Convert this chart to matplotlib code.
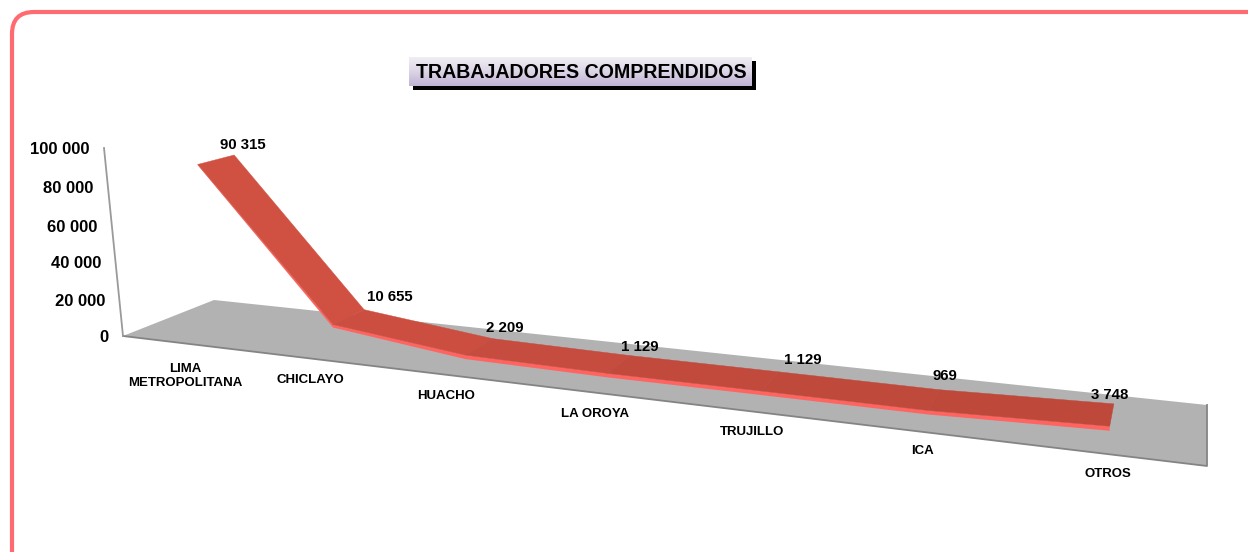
import numpy as np
import matplotlib
matplotlib.use("Agg")
import matplotlib.pyplot as plt
from matplotlib.patches import FancyBboxPatch, Polygon, Rectangle

plt.rcParams['font.family'] = ['Liberation Sans', 'DejaVu Sans']

categories = ["LIMA\nMETROPOLITANA", "CHICLAYO", "HUACHO", "LA OROYA", "TRUJILLO", "ICA", "OTROS"]
values = [90315, 10655, 2209, 1129, 1129, 969, 3748]
value_labels = ["90 315", "10 655", "2 209", "1 129", "1 129", "969", "3 748"]
y_ticks = [0, 20000, 40000, 60000, 80000, 100000]
y_tick_labels = ["0", "20 000", "40 000", "60 000", "80 000", "100 000"]
title = "TRABAJADORES COMPRENDIDOS"

# nudges for the data labels, in pixels from the back edge of the ribbon
label_dx = [9, 26, 12, 9, 24, 6, -4]
label_dy = [-10, -13, -11, -9, -12, -14, -9]
cat_dx = [33, 31, 29, 28, 23, 15, 6]
cat_dy = [20, 8, 7, 7, 4, 1, 0]
tick_dy = [2, 3, 3, 4, 3, 2]
strip = [0.6, 3, 4, 4, 4, 4, 4.5]
ribbon_colors = ["#d05142", "#cb4e40", "#c54c3e", "#c14a3c", "#bf4a3b", "#be493b"]

# floor corners on screen: front left, front right, back right, back left
src = np.array([[0, 0], [1, 0], [1, 1], [0, 1]], float)
dst = np.array([[123, 336], [1207, 466], [1207, 405], [214, 300]], float)

A = []
b = []
for (u, w), (px, py) in zip(src, dst):
    A.append([u, w, 1, 0, 0, 0, -u * px, -w * px])
    A.append([0, 0, 0, u, w, 1, -u * py, -w * py])
    b += [px, py]
H = np.append(np.linalg.solve(np.array(A), np.array(b)), 1).reshape(3, 3)


def project(u, w, h=0):
    p = H @ np.array([u, w, 1.0])
    x, y = p[0] / p[2], p[1] / p[2]
    # heights shrink with depth and lean outward a little towards the left
    k = h / 100000 * (1 - 0.075 * w)
    return x - k * 19 * (1 - u) * (1 - 0.35 * w * w), y - k * 188


fig = plt.figure(figsize=(12.48, 5.52), dpi=100)
ax = fig.add_axes([0, 0, 1, 1])
ax.set_xlim(0, 1248)
ax.set_ylim(552, 0)
ax.axis("off")

# outer frame runs off the picture at right and bottom
ax.add_patch(FancyBboxPatch((12, 12), 1300, 600, boxstyle="round,pad=0,rounding_size=22",
                            fc="white", ec="#ff6b70", lw=3, clip_on=True))

# title box
ax.add_patch(Rectangle((413, 61), 343, 29, fc="black", ec="none", zorder=2))
grad = np.linspace(0, 1, 30).reshape(-1, 1)
cmap = matplotlib.colors.LinearSegmentedColormap.from_list("t", ["#f0edf3", "#dcd5e6", "#c0b3d4"])
ax.imshow(grad, extent=(409, 752, 86, 57), aspect="auto", cmap=cmap, zorder=3)
ax.set_xlim(0, 1248)
ax.set_ylim(552, 0)
ax.text(581, 72, title, fontsize=14.1, fontweight="bold", ha="center", va="center", zorder=4)

# floor
floor = [project(u, w) for u, w in src]
ax.add_patch(Polygon(floor, closed=True, fc="#b2b2b2", ec="none", zorder=1))
ax.plot([floor[0][0], floor[1][0], floor[2][0]], [floor[0][1], floor[1][1], floor[2][1]],
        color="#848484", lw=1.3, zorder=1.5)

# value axis
axis_pts = np.array([project(0, 0, t) for t in y_ticks])
ax.plot(axis_pts[:, 0], axis_pts[:, 1], color="#9a9a9a", lw=1.3, zorder=1.5)
for t, lab, dy in zip(axis_pts, y_tick_labels, tick_dy):
    ax.text(t[0] - 14, t[1] + dy, lab, fontsize=12, fontweight="bold", ha="right", va="center")

# ribbon
n = len(values)
us = [(i + 0.5) / n for i in range(n)]
front = np.array([project(u, 0.33, v) for u, v in zip(us, values)])
back = np.array([project(u, 0.72, v) for u, v in zip(us, values)])
lower = front + np.column_stack([np.zeros(n), strip])
ax.add_patch(Polygon(np.vstack([front, lower[::-1]]), closed=True, fc="#ff6460", ec="none", zorder=5))
for i in range(n - 1):
    quad = [front[i], front[i + 1], back[i + 1], back[i]]
    ax.add_patch(Polygon(quad, closed=True, fc=ribbon_colors[i], ec=ribbon_colors[i], lw=0.3, zorder=6))

for i, lab in enumerate(value_labels):
    ax.text(back[i][0] + label_dx[i], back[i][1] + label_dy[i], lab, fontsize=10.8,
            fontweight="bold", ha="center", va="center", zorder=7)

# category labels sit in front of the floor
for i, (u, lab) in enumerate(zip(us, categories)):
    x, y = project(u, -0.3)
    ax.text(x + cat_dx[i], y + cat_dy[i], lab, fontsize=9.5, fontweight="bold", ha="center",
            va="center", linespacing=1.25, zorder=7)

fig.savefig("out.png", dpi=100)
